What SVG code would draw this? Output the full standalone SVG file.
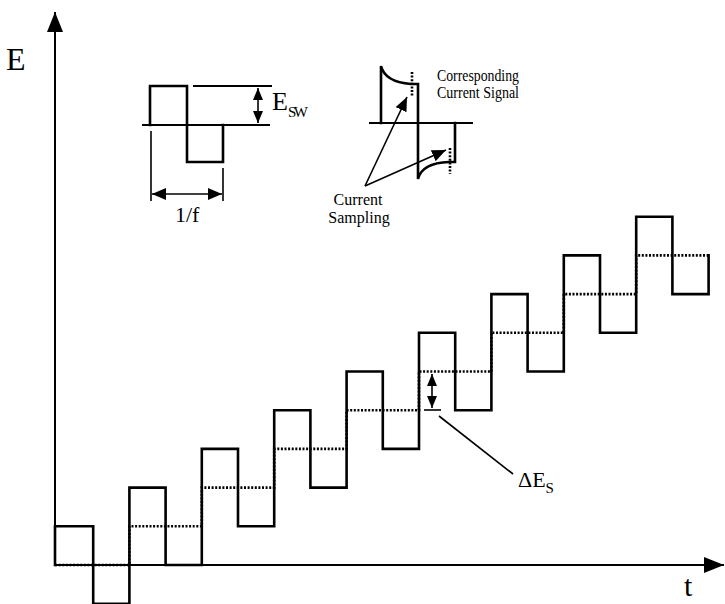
<svg xmlns="http://www.w3.org/2000/svg" width="725" height="604" viewBox="0 0 725 604">
<style>
.s{fill:none;stroke:#000;stroke-width:2.6;stroke-linejoin:miter;stroke-linecap:square}
.t{fill:none;stroke:#000;stroke-width:2}
.d{fill:none;stroke:#000;stroke-width:2.6;stroke-dasharray:2 1.6}
.th{fill:none;stroke:#000;stroke-width:1.6}
text{font-family:"Liberation Serif","Times New Roman",serif;fill:#000}
</style>
<defs>
<marker id="ax" markerUnits="userSpaceOnUse" markerWidth="20" markerHeight="16" refX="20" refY="8" orient="auto"><path d="M0,0 L20,8 L0,16 z" fill="#000"/></marker>
<marker id="ah" markerUnits="userSpaceOnUse" markerWidth="14" markerHeight="12" refX="14" refY="6" orient="auto-start-reverse"><path d="M0,0 L14,6 L0,12 z" fill="#000"/></marker>
<marker id="as" markerUnits="userSpaceOnUse" markerWidth="12" markerHeight="10" refX="12" refY="5" orient="auto-start-reverse"><path d="M0,0 L12,5 L0,10 z" fill="#000"/></marker>
</defs>
<g id="axes">
<line class="t" x1="55" y1="565" x2="55" y2="12" marker-end="url(#ax)"/>
<line class="t" x1="55" y1="565" x2="724" y2="565" marker-end="url(#ax)"/>
<text x="6" y="70" font-size="32">E</text>
<text x="684" y="596" font-size="30">t</text>
</g>
<g id="waveform">
<path class="s" d="M55,565 V526.3 H93.2 V603.7 H129.4 V487.6 H165.6 V565 H201.8 V448.9 H238 V526.3 H274.2 V410.2 H310.4 V487.6 H346.6 V371.5 H382.8 V448.9 H419 V332.8 H455.2 V410.2 H491.4 V294.1 H527.6 V371.5 H563.8 V255.4 H600 V332.8 H636.2 V216.7 H672.4 V294.1 H708.6 V255.4"/>
<path class="d" d="M55,565 H129.4 V526.3 H201.8 V487.6 H274.2 V448.9 H346.6 V410.2 H419 V371.5 H491.4 V332.8 H563.8 V294.1 H636.2 V255.4 H708.6"/>
</g>
<g id="delta-es">
<line class="th" x1="432" y1="374" x2="432" y2="408" marker-start="url(#as)" marker-end="url(#as)"/>
<line class="th" x1="424" y1="410" x2="441" y2="410"/>
<line class="th" x1="439" y1="416" x2="513" y2="474"/>
<text x="518" y="487" font-size="22">ΔE<tspan font-size="15" dy="6">S</tspan></text>
</g>
<g id="inset-potential">
<line class="t" x1="142" y1="125" x2="270" y2="125"/>
<path class="s" d="M150,125 V86 H187 V162 H223 V125"/>
<line class="t" x1="193" y1="86" x2="272" y2="86"/>
<line class="th" x1="258" y1="88" x2="258" y2="123" marker-start="url(#as)" marker-end="url(#as)"/>
<text x="272" y="110" font-size="26">E<tspan font-size="15" dy="7" textLength="20">SW</tspan></text>
<line class="th" x1="151" y1="131" x2="151" y2="201"/>
<line class="th" x1="223" y1="168" x2="223" y2="201"/>
<line class="th" x1="152" y1="194" x2="222" y2="194" marker-start="url(#ah)" marker-end="url(#ah)"/>
<text x="175" y="222" font-size="22">1/f</text>
</g>
<g id="inset-current">
<line class="t" x1="369" y1="123" x2="473" y2="123"/>
<path class="s" d="M381,123 V66 Q385,82 411,84 H418 V179 Q422,163 449,162 H455 V123"/>
<line class="d" x1="412" y1="72" x2="412" y2="96"/>
<line class="d" x1="450" y1="148" x2="450" y2="174"/>
<text x="437" y="81" font-size="16" textLength="82" lengthAdjust="spacingAndGlyphs">Corresponding</text>
<text x="437" y="98" font-size="16" textLength="82" lengthAdjust="spacingAndGlyphs">Current Signal</text>
</g>
<g id="current-sampling">
<line class="th" x1="365" y1="186" x2="407" y2="97" marker-end="url(#ah)"/>
<line class="th" x1="365" y1="186" x2="446" y2="150" marker-end="url(#ah)"/>
<text x="358" y="205" font-size="16" text-anchor="middle">Current</text>
<text x="359" y="223" font-size="16" text-anchor="middle">Sampling</text>
</g>
</svg>
